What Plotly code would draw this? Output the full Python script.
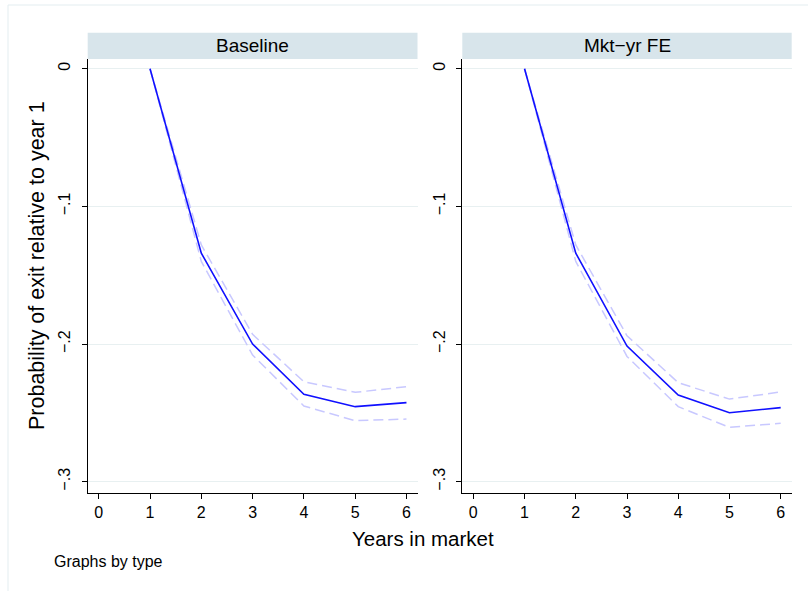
import plotly.graph_objects as go

W, H = 808, 591

years = [1, 2, 3, 4, 5, 6]
panels = ["Baseline", "Mkt\u2212yr FE"]

base_est = [0.0, -0.134, -0.200, -0.2365, -0.2455, -0.2426]
base_hi = [0.0, -0.128, -0.193, -0.2274, -0.2351, -0.2310]
base_lo = [0.0, -0.140, -0.208, -0.2450, -0.2557, -0.2545]

fe_est = [0.0, -0.134, -0.2015, -0.2370, -0.2499, -0.2462]
fe_hi = [0.0, -0.128, -0.194, -0.2281, -0.2400, -0.2348]
fe_lo = [0.0, -0.140, -0.209, -0.2455, -0.2605, -0.2576]

x_ticks = [0, 1, 2, 3, 4, 5, 6]
y_ticks = [0, -0.1, -0.2, -0.3]
y_ticktext = ["0", "\u2212.1", "\u2212.2", "\u2212.3"]

y_title = "Probability of exit relative to year 1"
x_title = "Years in market"
note = "Graphs by type"

FONT = "Liberation Sans, Arial, Helvetica, sans-serif"
BLUE = "#1010FF"
CI = "#C8C8FF"
GRID = "#E8F0F1"
STRIP = "#D8E5EB"

def px(x):
    return x / W

def py(y):
    return 1 - y / H

fig = go.Figure()

series = [(base_est, base_hi, base_lo), (fe_est, fe_hi, fe_lo)]
for i, (est, hi, lo) in enumerate(series):
    xa = "x" if i == 0 else "x2"
    ya = "y" if i == 0 else "y2"
    for ci in (hi, lo):
        fig.add_trace(go.Scatter(x=years, y=ci, mode="lines", xaxis=xa, yaxis=ya,
                                 line=dict(color=CI, width=1.5, dash="10px,5px"),
                                 showlegend=False, hoverinfo="skip"))
    fig.add_trace(go.Scatter(x=years, y=est, mode="lines", xaxis=xa, yaxis=ya,
                             line=dict(color=BLUE, width=1.6),
                             showlegend=False))

xdom = [[px(87.7), px(417.5)], [px(462.3), px(791.7)]]
ydom = [py(492.7), py(59)]

def xaxis(dom, anchor):
    return dict(domain=dom, anchor=anchor, range=[-0.215, 6.215],
                tickvals=x_ticks, ticks="outside", ticklen=5, tickcolor="black",
                tickwidth=1, showline=True, linecolor="black", linewidth=1,
                showgrid=False, zeroline=False,
                tickfont=dict(family=FONT, size=16, color="black"))

def yaxis(anchor):
    return dict(domain=ydom, anchor=anchor, range=[-0.308, 0.00705],
                tickvals=y_ticks, ticktext=y_ticktext, tickangle=-90,
                ticks="outside", ticklen=5, tickcolor="black", tickwidth=1,
                showline=True, linecolor="black", linewidth=1,
                showgrid=True, gridcolor=GRID, gridwidth=1, zeroline=False,
                ticklabelstandoff=5,
                tickfont=dict(family=FONT, size=16, color="black"))

shapes = [
    dict(type="rect", xref="paper", yref="paper", x0=px(8), x1=px(830), y0=py(620), y1=py(5),
         line=dict(color="#E3EDF0", width=1), fillcolor="rgba(0,0,0,0)", layer="below"),
]
annotations = []
for i, name in enumerate(panels):
    shapes.append(dict(type="rect", xref="paper", yref="paper",
                       x0=xdom[i][0], x1=xdom[i][1], y0=py(59), y1=py(32.7),
                       line=dict(width=0), fillcolor=STRIP, layer="below"))
    annotations.append(dict(text=name, xref="paper", yref="paper",
                            x=(xdom[i][0] + xdom[i][1]) / 2, y=py(46),
                            showarrow=False, xanchor="center", yanchor="middle",
                            font=dict(family=FONT, size=19, color="black")))

annotations.append(dict(text=y_title, xref="paper", yref="paper", x=px(37), y=py(266),
                        textangle=-90, showarrow=False, xanchor="center", yanchor="middle",
                        font=dict(family=FONT, size=21.5, color="black")))
annotations.append(dict(text=x_title, xref="paper", yref="paper", x=px(423), y=py(538),
                        showarrow=False, xanchor="center", yanchor="middle",
                        font=dict(family=FONT, size=20.5, color="black")))
annotations.append(dict(text=note, xref="paper", yref="paper", x=px(52), y=py(561),
                        showarrow=False, xanchor="left", yanchor="middle",
                        font=dict(family=FONT, size=16, color="black")))

fig.update_layout(
    width=W, height=H,
    margin=dict(l=0, r=0, t=0, b=0),
    paper_bgcolor="white", plot_bgcolor="white",
    xaxis=xaxis(xdom[0], "y"), yaxis=yaxis("x"),
    xaxis2=xaxis(xdom[1], "y2"), yaxis2=yaxis("x2"),
    shapes=shapes, annotations=annotations,
    showlegend=False,
)

fig.write_html("out.html", config={"displayModeBar": False},
               post_script="document.body.style.margin='0';")
